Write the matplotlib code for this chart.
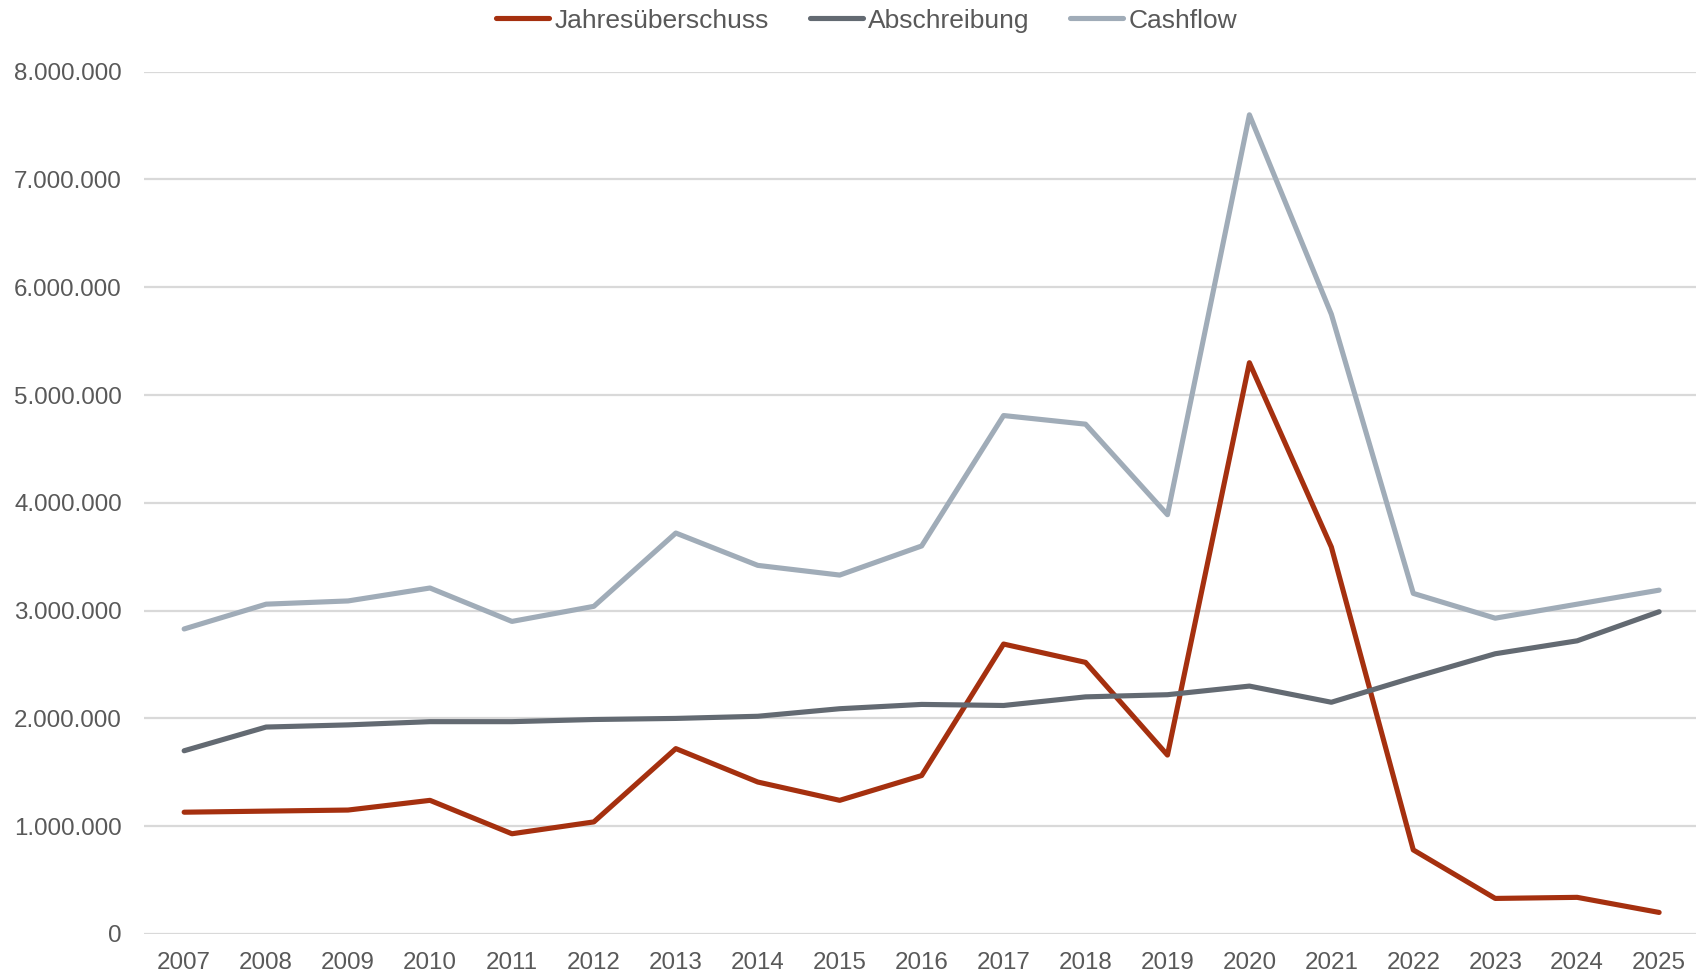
import numpy as np
import matplotlib.pyplot as plt
from matplotlib.ticker import FuncFormatter

# Jahre und Werte
jahre = ['2007', '2008', '2009', '2010', '2011', '2012', '2013', '2014', '2015', '2016',
         '2017', '2018', '2019', '2020', '2021', '2022', '2023', '2024', '2025']
jahresueberschuss = [1130000, 1140000, 1150000, 1240000, 930000, 1040000, 1720000, 1410000, 1240000, 1470000,
                     2690000, 2520000, 1660000, 5300000, 3590000, 780000, 330000, 340000, 200000]
abschreibung = [1700000, 1920000, 1940000, 1970000, 1970000, 1990000, 2000000, 2020000, 2090000, 2130000,
                2120000, 2200000, 2220000, 2300000, 2150000, 2380000, 2600000, 2720000, 2990000]
cashflow = [2830000, 3060000, 3090000, 3210000, 2900000, 3040000, 3720000, 3420000, 3330000, 3600000,
            4810000, 4730000, 3890000, 7600000, 5750000, 3160000, 2930000, 3060000, 3190000]

plt.rcParams['font.family'] = ['Liberation Sans', 'DejaVu Sans']
text_color = '#595959'

fig = plt.figure(figsize=(16.96, 9.77), dpi=100)
ax = fig.add_axes([144 / 1696, 43 / 977, 1 - 144 / 1696, (934 - 71.7) / 977])

x = np.arange(len(jahre))
ax.plot(x, jahresueberschuss, color='#A5300F', linewidth=3.7, label='Jahresüberschuss',
        solid_capstyle='round', solid_joinstyle='round')
ax.plot(x, abschreibung, color='#636A72', linewidth=3.7, label='Abschreibung',
        solid_capstyle='round', solid_joinstyle='round')
ax.plot(x, cashflow, color='#A0ACB8', linewidth=3.7, label='Cashflow',
        solid_capstyle='round', solid_joinstyle='round')

ax.set_xlim(-0.49, 18.45)
ax.set_ylim(0, 8000000)
ax.set_yticks(np.arange(0, 8000001, 1000000))
ax.yaxis.set_major_formatter(FuncFormatter(lambda v, p: f'{int(v):,}'.replace(',', '.')))
ax.set_xticks(x)
ax.set_xticklabels(jahre)

ax.grid(axis='y', color='#d9d9d9', linewidth=1.6)
ax.set_axisbelow(True)
for s in ax.spines.values():
    s.set_visible(False)
ax.tick_params(axis='both', length=0, labelsize=17.4, labelcolor=text_color)
ax.tick_params(axis='y', pad=16)
ax.tick_params(axis='x', pad=13)

fig.legend(loc='center', bbox_to_anchor=(0.511, 0.979), ncol=3, frameon=False,
           fontsize=19, labelcolor=text_color, handlelength=2.0, handletextpad=0.2,
           columnspacing=1.55)

fig.savefig('out.png', dpi=100)
